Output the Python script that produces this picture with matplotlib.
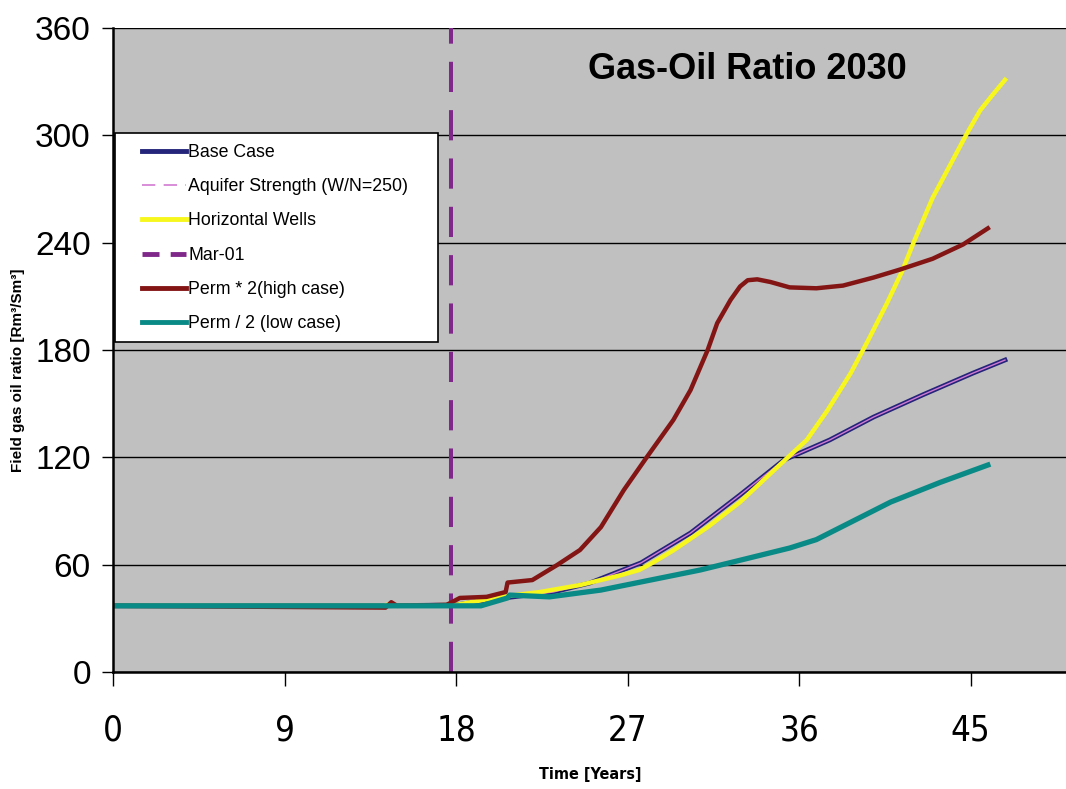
import numpy as np
import matplotlib
matplotlib.use("Agg")
import matplotlib.pyplot as plt
from matplotlib.lines import Line2D
from matplotlib.patches import Rectangle
from matplotlib import font_manager

# data (x in years, y in Rm3/Sm3)
base_x = [0, 14, 18, 19.5, 21, 23.1, 25.0, 27.7, 30.3, 32.9, 35.2, 37.6, 39.9, 42.5, 45.1, 46.8]
base_y = [37, 37, 37.5, 40, 42, 44.7, 49.7, 61, 77.7, 99, 118.5, 129.7, 142.5, 155, 167, 174.4]

aquifer_x = [0, 14, 18, 19.5, 21, 23.1, 25.0, 27.7, 30.3, 32.9, 35.2, 37.6, 39.9, 42.5, 45.1, 46.8]
aquifer_y = [37, 37, 37.5, 40, 42, 44.7, 49.7, 61, 77.7, 99, 118.5, 129.7, 142.5, 155, 167, 174.4]

horiz_x = [0, 14.2, 14.5, 14.8, 18, 20.3, 22.4, 24.5, 26.6, 27.6, 28.3, 29.4, 31.2, 32.9, 35.0,
           36.4, 37.5, 38.7, 39.6, 40.6, 41.4, 42.0, 43.0, 44.1, 44.8, 45.5, 46.1, 46.8]
horiz_y = [37, 37, 38, 37, 37.5, 42, 44.7, 48.6, 54, 57, 61, 68, 81, 95, 116,
           129.7, 146.5, 167, 185, 206, 224, 240, 265, 287, 301, 314, 322, 331]

mar01_x = 17.75

high_x = [0, 14.3, 14.6, 14.9, 17.5, 18.2, 19.6, 20.6, 20.7, 22.0, 23.3, 24.5, 25.6, 26.8, 28.0,
          29.4, 30.3, 31.2, 31.7, 32.4, 32.9, 33.3, 33.8, 34.5, 35.5, 36.9, 38.3, 39.9, 41.3,
          43.0, 44.6, 45.9]
high_y = [37, 36, 39, 37, 37.5, 41.4, 42, 44.7, 50, 51.4, 59.8, 68.2, 81, 101.7, 120,
          140.9, 157.6, 180, 195, 208, 215.5, 219, 219.5, 218, 215, 214.5, 216, 220.5, 225,
          231, 239, 248]

low_x = [0, 19.3, 20.7, 20.8, 22.9, 25.6, 28.2, 30.8, 33.1, 35.5, 36.9, 38.2, 40.8, 43.4, 45.9]
low_y = [37, 37, 41.4, 43, 42, 45.8, 51.4, 57, 63, 69.3, 74, 81, 95, 106, 115.7]

labels = ["Base Case", "Aquifer Strength (W/N=250)", "Horizontal Wells",
          "Mar-01", "Perm * 2(high case)", "Perm / 2 (low case)"]
colors = ["#24247a", "#d27ad2", "#f7f71e", "#80288a", "#841515", "#0a8a86"]

sans = ["Liberation Sans", "DejaVu Sans"]
names = {f.name for f in font_manager.fontManager.ttflist}
if "Liberation Sans Narrow" in names:
    narrow = dict(family=["Liberation Sans Narrow", "DejaVu Sans"])
else:
    narrow = dict(family=["DejaVu Sans"], stretch="condensed")

fig = plt.figure(figsize=(10.66, 7.89), dpi=100)
ax = fig.add_axes([113 / 1066, 1 - 672 / 789, 1 - 113 / 1066, (672 - 28) / 789])
ax.set_facecolor("#c0c0c0")

ax.plot(base_x, base_y, color=colors[0], lw=3.4)
ax.plot(aquifer_x, aquifer_y, color=colors[1], lw=1.0)
ax.plot(horiz_x, horiz_y, color=colors[2], lw=3.2)
ax.axvline(mar01_x, color=colors[3], lw=2.9, dashes=(7.5, 4.5))
ax.plot(high_x, high_y, color=colors[4], lw=3.2)
ax.plot(low_x, low_y, color=colors[5], lw=3.8)

ax.set_xlim(0, 50)
ax.set_ylim(0, 360)
ax.set_xticks(np.arange(0, 46, 9))
ax.set_yticks(np.arange(0, 361, 60))
ax.yaxis.grid(True, color="black", lw=1)
ax.set_axisbelow(True)

for s in ["top", "right"]:
    ax.spines[s].set_visible(False)
for s in ["left", "bottom"]:
    ax.spines[s].set_linewidth(1.8)

ax.tick_params(axis="y", length=8, width=1, pad=8, labelsize=24)
ax.tick_params(axis="x", length=10, width=1, pad=20, labelsize=25)
for t in ax.get_yticklabels():
    t.set_family(sans)
for t in ax.get_xticklabels():
    t.set_family(narrow["family"])
    if "stretch" in narrow:
        t.set_stretch(narrow["stretch"])

fig.text(18 / 1066, 1 - 370 / 789, "Field gas oil ratio [Rm³/Sm³]", rotation=90,
         ha="center", va="center", fontsize=11, fontweight="bold", family=sans)
fig.text(590 / 1066, 1 - 775 / 789, "Time [Years]", ha="center", va="center",
         fontsize=11.5, fontweight="bold", **narrow)

ax.text(0.666, 0.936, "Gas-Oil Ratio 2030", transform=ax.transAxes, ha="center",
        va="center", fontsize=26, fontweight="bold", family=sans)

# legend box drawn by hand so the padding matches
box = Rectangle((115 / 1066, 1 - 342 / 789), (438 - 115) / 1066, (342 - 133) / 789,
                transform=fig.transFigure, facecolor="white", edgecolor="black",
                lw=1.2, zorder=4)
fig.add_artist(box)

handles = [
    Line2D([], [], color=colors[0], lw=3.5),
    Line2D([], [], color=colors[1], lw=1.2, dashes=(8, 5)),
    Line2D([], [], color=colors[2], lw=3.5),
    Line2D([], [], color=colors[3], lw=3.5, dashes=(3.5, 2.3)),
    Line2D([], [], color=colors[4], lw=3.5),
    Line2D([], [], color=colors[5], lw=3.5),
]
leg = fig.legend(handles, labels, loc="upper left",
                 bbox_to_anchor=(142 / 1066, 1 - 144 / 789), borderaxespad=0,
                 frameon=False, handlelength=2.5, handletextpad=0.1,
                 labelspacing=0.97, borderpad=0,
                 prop={"family": sans, "size": 12.8})
leg.set_zorder(5)

fig.savefig("out.png", dpi=100)
